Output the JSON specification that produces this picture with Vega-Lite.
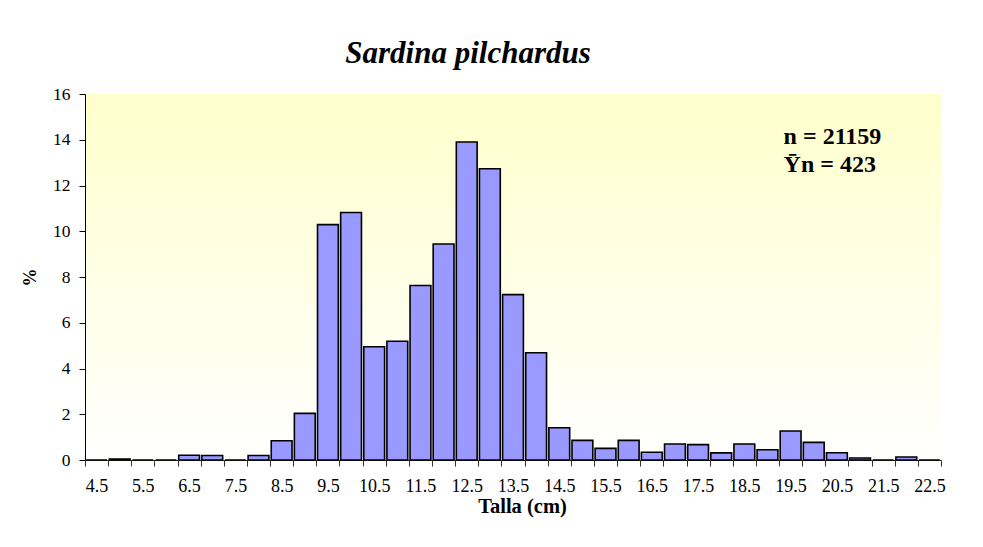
{
  "$schema": "https://vega.github.io/schema/vega-lite/v6.json",
  "width": 856,
  "height": 366,
  "autosize": {"type": "none"},
  "padding": {"left": 85, "top": 94, "right": 42, "bottom": 87},
  "background": "white",
  "title": {
    "text": "Sardina pilchardus",
    "font": "Liberation Serif",
    "fontSize": 31,
    "fontStyle": "italic",
    "fontWeight": "bold",
    "color": "#000000",
    "anchor": "middle",
    "dx": -45,
    "offset": 15
  },
  "config": {
    "font": "Liberation Serif",
    "view": {
      "stroke": null,
      "fill": {
        "gradient": "linear",
        "x1": 0, "y1": 0, "x2": 0, "y2": 1,
        "stops": [
          {"offset": 0, "color": "#FFFFCC"},
          {"offset": 1, "color": "#FFFFFF"}
        ]
      }
    }
  },
  "data": {
    "values": [
      {"talla": 4.5, "pct": 0},
      {"talla": 5, "pct": 0.04},
      {"talla": 5.5, "pct": 0},
      {"talla": 6, "pct": 0},
      {"talla": 6.5, "pct": 0.21},
      {"talla": 7, "pct": 0.2},
      {"talla": 7.5, "pct": 0},
      {"talla": 8, "pct": 0.2},
      {"talla": 8.5, "pct": 0.84},
      {"talla": 9, "pct": 2.04},
      {"talla": 9.5, "pct": 10.29},
      {"talla": 10, "pct": 10.82},
      {"talla": 10.5, "pct": 4.95},
      {"talla": 11, "pct": 5.19},
      {"talla": 11.5, "pct": 7.63},
      {"talla": 12, "pct": 9.44},
      {"talla": 12.5, "pct": 13.9},
      {"talla": 13, "pct": 12.73},
      {"talla": 13.5, "pct": 7.23},
      {"talla": 14, "pct": 4.69},
      {"talla": 14.5, "pct": 1.41},
      {"talla": 15, "pct": 0.86},
      {"talla": 15.5, "pct": 0.51},
      {"talla": 16, "pct": 0.86},
      {"talla": 16.5, "pct": 0.34},
      {"talla": 17, "pct": 0.7},
      {"talla": 17.5, "pct": 0.67},
      {"talla": 18, "pct": 0.31},
      {"talla": 18.5, "pct": 0.7},
      {"talla": 19, "pct": 0.45},
      {"talla": 19.5, "pct": 1.27},
      {"talla": 20, "pct": 0.77},
      {"talla": 20.5, "pct": 0.32},
      {"talla": 21, "pct": 0.09},
      {"talla": 21.5, "pct": 0},
      {"talla": 22, "pct": 0.13},
      {"talla": 22.5, "pct": 0}
    ]
  },
  "layer": [
    {
      "mark": {
        "type": "bar",
        "fill": "#9999FF",
        "stroke": "#000000",
        "strokeWidth": 1.6,
        "width": {"band": 0.9}
      },
      "encoding": {
        "x": {
          "field": "talla",
          "type": "ordinal",
          "scale": {"paddingInner": 0, "paddingOuter": 0},
          "axis": {
            "title": "Talla (cm)",
            "titleFont": "Liberation Serif",
            "titleFontSize": 20.5,
            "titleFontWeight": "bold",
            "titleColor": "#000000",
            "titlePadding": 1,
            "titleX": 437,
            "labelAngle": 0,
            "labelFont": "Liberation Serif",
            "labelFontSize": 18,
            "labelColor": "#000000",
            "labelPadding": 11,
            "labelOverlap": false,
            "labelExpr": "datum.value % 1 == 0.5 ? datum.label : ''",
            "tickBand": "extent",
            "tickSize": 6,
            "tickColor": "#333333",
            "domainColor": "#333333",
            "grid": false
          }
        },
        "y": {
          "field": "pct",
          "type": "quantitative",
          "scale": {"domain": [0, 16], "nice": false},
          "axis": {
            "title": "%",
            "titleFont": "Liberation Serif",
            "titleFontSize": 18,
            "titleFontWeight": "bold",
            "titleColor": "#000000",
            "titlePadding": 13,
            "values": [0, 2, 4, 6, 8, 10, 12, 14, 16],
            "labelFont": "Liberation Serif",
            "labelFontSize": 17.5,
            "labelColor": "#000000",
            "labelPadding": 9,
            "tickSize": 6,
            "tickColor": "#000000",
            "domainColor": "#000000",
            "grid": false
          }
        }
      }
    },
    {
      "data": {"values": [{"label": "n = 21159\nȲn = 423"}]},
      "mark": {
        "type": "text",
        "align": "left",
        "baseline": "alphabetic",
        "font": "Liberation Serif",
        "fontSize": 24,
        "fontWeight": "bold",
        "color": "#000000",
        "lineBreak": "\n",
        "lineHeight": 28,
        "dx": -7
      },
      "encoding": {
        "x": {"datum": 19.5, "type": "ordinal"},
        "y": {"datum": 13.81, "type": "quantitative"},
        "text": {"field": "label"}
      }
    }
  ]
}
